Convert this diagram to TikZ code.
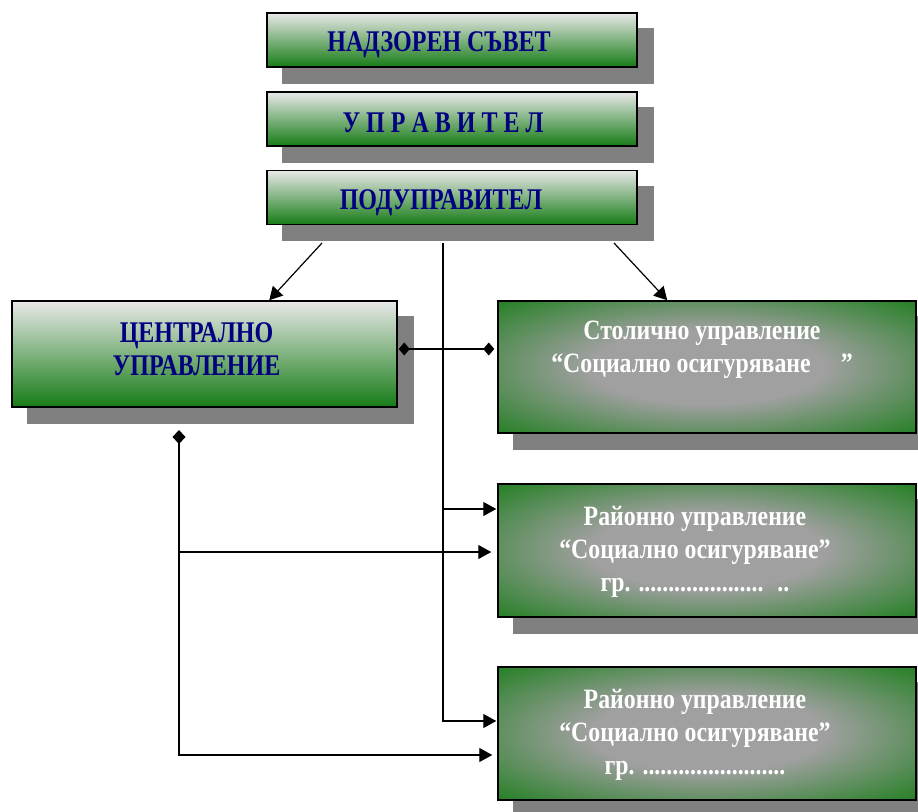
\documentclass[tikz,border=0pt]{standalone}
\usepackage{fontspec}
\newfontfamily\tnr[FakeStretch=0.85]{Liberation Serif}
\newfontfamily\tnrc[FakeStretch=0.8]{Liberation Serif}
\usetikzlibrary{arrows.meta,calc}
\definecolor{boxgreen}{HTML}{167C16}
\definecolor{navy}{HTML}{000080}
\definecolor{glowgray}{HTML}{A0A0A0}
\definecolor{topgray}{HTML}{E8E8E8}
\definecolor{midgray}{HTML}{D0D8D0}
\definecolor{shadowgray}{HTML}{808080}
\pgfdeclareradialshading{glow}{\pgfpoint{0bp}{0bp}}{color(0bp)=(glowgray); color(14bp)=(glowgray); color(38bp)=(boxgreen); color(50bp)=(boxgreen)}
\pgfdeclarelayer{bg}\pgfdeclarelayer{mid}\pgfsetlayers{bg,mid,main}
\begin{document}
\begin{tikzpicture}[x=1pt,y=-1pt,
  lightbox/.style={draw=black,line width=1.5pt,top color=topgray,middle color=midgray,bottom color=boxgreen,inner sep=0pt},
  darkbox/.style={draw=black,line width=1.5pt,shading=glow,inner sep=0pt},
  navytext/.style={text=navy,font=\tnrc\bfseries\fontsize{30}{33}\selectfont,align=center,inner sep=0pt},
  whitetext/.style={text=white,font=\tnr\bfseries\fontsize{28}{33}\selectfont,align=center,inner sep=0pt},
  conn/.style={line width=1.2pt,draw=black}
]
\useasboundingbox (0,0) rectangle (918,811);
% boxes
\node[lightbox,minimum width=370pt,minimum height=54pt] (sb) at (452,40) {};
\node[lightbox,minimum width=370pt,minimum height=54pt] (upr) at (452,119) {};
\node[lightbox,minimum width=370pt,minimum height=54pt] (pod) at (452,197.5) {};
\node[lightbox,minimum width=385pt,minimum height=106pt] (cu) at (204.5,354) {};
\node[darkbox,minimum width=418pt,minimum height=132pt] (r1) at (707,367) {};
\node[darkbox,minimum width=418pt,minimum height=133pt] (r2) at (707,550.5) {};
\node[darkbox,minimum width=418pt,minimum height=133pt] (r3) at (707,733.5) {};
% texts
\node[navytext] (sbt) at ($(sb)+(-13,5)$) {НАДЗОРЕН СЪВЕТ};
\node[navytext] (uprt) at ($(upr)+(-9,4)$) {У\hspace{0.2em}П\hspace{0.2em}Р\hspace{0.2em}А\hspace{0.2em}В\hspace{0.2em}И\hspace{0.2em}Т\hspace{0.2em}Е\hspace{0.2em}Л};
\node[navytext] (podt) at ($(pod)+(-11,5)$) {ПОДУПРАВИТЕЛ};
\node[navytext] (cut) at ($(cu)+(-8,-5)$) {ЦЕНТРАЛНО\\УПРАВЛЕНИЕ};
\node[whitetext] (r1t) at ($(r1)+(-5,-17)$) {Столично управление\\“Социално осигуряване\hspace{30pt}”};
\node[whitetext] (r2t) at ($(r2)+(-12,1)$) {Районно управление\\“Социално осигуряване”\\гр. .....................\hspace{14pt}..};
\node[whitetext] (r3t) at ($(r3)+(-12,1)$) {Районно управление\\“Социално осигуряване”\\гр. ........................};
% shadows
\begin{pgfonlayer}{bg}
\foreach \n in {sb,upr,pod,cu,r1,r2,r3}
  \fill[shadowgray] ($(\n.north west)+(16,16)$) rectangle ($(\n.south east)+(16,16)$);
\end{pgfonlayer}
% connectors
\coordinate (p1) at (322,243);
\coordinate (p2) at (614,243);
\coordinate (p3) at (443,243);
\coordinate (j1) at (443,509);
\coordinate (d1) at (179,430);
\coordinate (j2) at (179,552);
\begin{pgfonlayer}{mid}
\draw[conn,-{Triangle[length=13pt,width=14pt]}] (p1) -- ($(cu.north west)+(258,0)$);
\draw[conn,-{Triangle[length=13pt,width=14pt]}] (p2) -- ($(r1.north west)+(170,0)$);
\draw[conn,-{Triangle[length=13pt,width=14pt]}] (p3) |- ($(r3.west)+(-1,-12.5)$);
\draw[conn,-{Triangle[length=13pt,width=14pt]}] (j1) -- ($(r2.west)+(-1,-41.5)$);
\draw[conn,{Diamond[length=11pt,width=13pt]}-{Diamond[length=11pt,width=13pt]}] ($(cu.east)+(1,-5)$) -- ($(r1.west)+(-3,-18)$);
\draw[conn,{Diamond[length=14pt,width=13pt]}-{Triangle[length=13pt,width=14pt]}] (d1) |- ($(r3.west)+(-5,21.5)$);
\draw[conn,-{Triangle[length=13pt,width=14pt]}] (j2) -- ($(r2.west)+(-6,1.5)$);
\end{pgfonlayer}
\end{tikzpicture}
\end{document}
